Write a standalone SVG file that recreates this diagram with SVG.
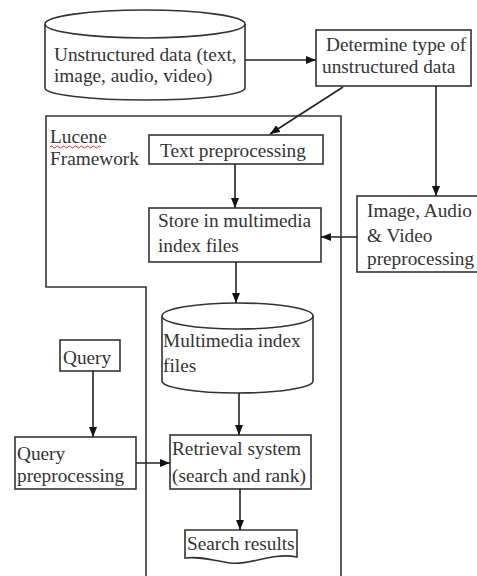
<svg xmlns="http://www.w3.org/2000/svg" width="477" height="576" viewBox="0 0 477 576">
<style>
.s{fill:#fff;stroke:#333;stroke-width:1.6}
.o{fill:none;stroke:#333;stroke-width:1.6}
.c{fill:none;stroke:#222;stroke-width:1.6}
text{font-family:'Liberation Serif','Times New Roman',Times,serif;font-size:19.3px;fill:#333}
</style>
<defs>
<marker id="a" markerWidth="10" markerHeight="8" refX="10" refY="4" orient="auto" markerUnits="userSpaceOnUse">
<path d="M0,0 L10,4 L0,8 Z" fill="#111"/>
</marker>
</defs>
<rect width="477" height="576" fill="#fff"/>
<g id="lucene">
<path class="o" d="M146,576 V287 H46 V116 H341 V576"/>
<text x="50" y="143">Lucene</text>
<text x="50" y="165">Framework</text>
<path d="M50,147 q1.5,-2 3,0 t3,0 t3,0 t3,0 t3,0 t3,0 t3,0 t3,0 t3,0 t3,0 t3,0 t3,0 t3,0 t3,0 t3,0 t3,0 t3,0" fill="none" stroke="#d33" stroke-width="1"/>
</g>
<g id="unstructured">
<path class="s" d="M45,24 V88 A100,12 0 0 0 245,88 V24"/>
<ellipse class="s" cx="145" cy="24" rx="100" ry="14"/>
<text x="54" y="61">Unstructured data (text,</text>
<text x="54" y="82">image, audio, video)</text>
</g>
<g id="determine">
<rect class="s" x="316" y="30" width="155" height="56"/>
<text x="326" y="51">Determine type of</text>
<text x="322" y="73">unstructured data</text>
</g>
<g id="textpre">
<rect class="s" x="149" y="135" width="174" height="29"/>
<text x="160" y="157">Text preprocessing</text>
</g>
<g id="store">
<rect class="s" x="149" y="208" width="172" height="54"/>
<text x="158" y="227">Store in multimedia</text>
<text x="158" y="252">index files</text>
</g>
<g id="imagepre">
<rect class="s" x="357" y="196" width="125" height="76"/>
<text x="367" y="217">Image, Audio</text>
<text x="367" y="242">&amp; Video</text>
<text x="367" y="265">preprocessing</text>
</g>
<g id="mmindex">
<path class="s" d="M162,316 V381 A75.5,12 0 0 0 313,381 V316"/>
<ellipse class="s" cx="237.5" cy="316" rx="75.5" ry="13"/>
<text x="163" y="347">Multimedia index</text>
<text x="163" y="372">files</text>
</g>
<g id="query">
<rect class="s" x="60" y="340" width="60" height="31"/>
<text x="63" y="364">Query</text>
</g>
<g id="querypre">
<rect class="s" x="15" y="437" width="121" height="52"/>
<text x="17" y="460">Query</text>
<text x="17" y="482">preprocessing</text>
</g>
<g id="retrieval">
<rect class="s" x="170" y="435" width="141" height="54"/>
<text x="172" y="455">Retrieval system</text>
<text x="172" y="482">(search and rank)</text>
</g>
<g id="results">
<path class="s" d="M185,530 H297 V557 C270,552 250,566 230,563 C210,560 200,556 185,558 Z"/>
<text x="187" y="550">Search results</text>
</g>
<g id="connectors">
<line class="c" x1="245" y1="60" x2="316" y2="60" marker-end="url(#a)"/>
<line class="c" x1="343" y1="87" x2="270" y2="134" marker-end="url(#a)"/>
<line class="c" x1="436" y1="86" x2="436" y2="196" marker-end="url(#a)"/>
<line class="c" x1="235" y1="164" x2="235" y2="208" marker-end="url(#a)"/>
<line class="c" x1="357" y1="237" x2="321" y2="237" marker-end="url(#a)"/>
<line class="c" x1="236" y1="262" x2="236" y2="303" marker-end="url(#a)"/>
<line class="c" x1="239" y1="393" x2="239" y2="435" marker-end="url(#a)"/>
<line class="c" x1="240" y1="489" x2="240" y2="530" marker-end="url(#a)"/>
<line class="c" x1="93" y1="371" x2="93" y2="437" marker-end="url(#a)"/>
<line class="c" x1="136" y1="463" x2="170" y2="463" marker-end="url(#a)"/>
</g>
</svg>
